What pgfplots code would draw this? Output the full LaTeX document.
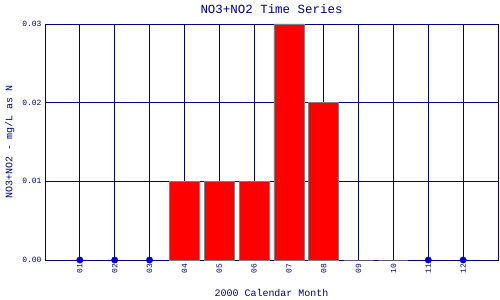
\documentclass[border=0pt]{standalone}
\usepackage{pgfplots}
\pgfplotsset{compat=1.18}
\usepackage{fontspec}
\setmainfont{Liberation Mono}
\definecolor{navy}{RGB}{0,0,128}
\definecolor{dotblue}{RGB}{0,0,204}
\begin{document}
\begin{tikzpicture}
\useasboundingbox (-45bp,-40bp) rectangle (455bp,260bp);
\begin{axis}[
  at={(0,0)}, anchor=south west,
  scale only axis, width=453bp, height=236bp,
  xmin=0, xmax=13, ymin=0, ymax=0.03,
  xtick={1,...,12},
  xticklabels={01,02,03,04,05,06,07,08,09,10,11,12},
  ytick={0,0.01,0.02,0.03},
  scaled y ticks=false,
  yticklabel style={/pgf/number format/fixed, /pgf/number format/fixed zerofill, /pgf/number format/precision=2},
  /pgf/number format/assume math mode=true,
  x tick label style={rotate=90, anchor=east, font=\fontsize{8}{9}\selectfont, text=navy},
  y tick label style={font=\fontsize{8}{9}\selectfont, text=navy},
  major tick length=0pt,
  xmajorgrids, ymajorgrids,
  grid style={navy, line width=0.9pt},
  axis line style={navy, line width=0.9pt},
  title={NO3+NO2 Time Series},
  title style={font=\fontsize{12.5}{14}\selectfont, text=navy, yshift=1bp},
  xlabel={2000 Calendar Month},
  ylabel={NO3+NO2 - mg/L as N},
  label style={font=\fontsize{10}{12}\selectfont, text=navy},
  xlabel style={yshift=-9bp},
  ylabel style={yshift=1bp},
  clip=false,
]
\addplot[ybar, bar width=30bp, fill=red, draw=gray, line width=0.8pt] coordinates {
  (4,0.01) (5,0.01) (6,0.01) (7,0.03) (8,0.02) (9,0) (10,0)
};
\addplot[only marks, mark=*, mark size=3.2bp, color=dotblue] coordinates {
  (1,0) (2,0) (3,0) (11,0) (12,0)
};
\end{axis}
\end{tikzpicture}
\end{document}
